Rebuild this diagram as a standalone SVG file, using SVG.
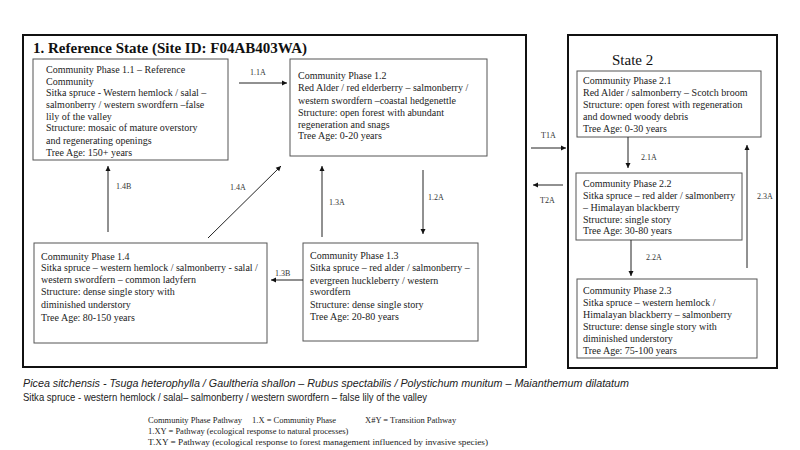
<svg xmlns="http://www.w3.org/2000/svg" width="800" height="450" viewBox="0 0 800 450">
<defs>
<marker id="ah" markerWidth="6" markerHeight="6" refX="5" refY="3" orient="auto" markerUnits="userSpaceOnUse">
<path d="M0,0.5 L5,3 L0,5.5 Z" fill="#111"/>
</marker>
<style>
.frame{fill:none;stroke:#111;stroke-width:2}
.box{fill:#fff;stroke:#555;stroke-width:1}
.t{font-family:"Liberation Serif","Times New Roman",serif;font-size:10px;fill:#222}
.lbl{font-family:"Liberation Serif","Times New Roman",serif;font-size:8px;fill:#333}
.con{stroke:#222;stroke-width:1;fill:none;marker-end:url(#ah)}
.leg{font-family:"Liberation Serif","Times New Roman",serif;font-size:8.5px;fill:#222}
.foot{font-family:"Liberation Sans",Arial,sans-serif;font-size:11px;fill:#222}
</style>
</defs>
<rect width="800" height="450" fill="#fff"/>

<g id="state1">
<rect class="frame" x="23" y="35" width="503" height="332"/>
<text x="33" y="53" font-family="Liberation Serif,Times New Roman,serif" font-size="15" font-weight="bold" fill="#111" textLength="274" lengthAdjust="spacingAndGlyphs">1. Reference State (Site ID: F04AB403WA)</text>
</g>
<g id="state2">
<rect class="frame" x="568" y="35" width="209" height="333"/>
<text x="612" y="65" font-family="Liberation Serif,Times New Roman,serif" font-size="15" fill="#111">State 2</text>
</g>

<g id="cp11">
<rect class="box" x="33" y="59" width="195" height="101"/>
<text class="t" x="46" y="73">Community Phase 1.1 – Reference</text>
<text class="t" x="46" y="84.5">Community</text>
<text class="t" x="46" y="96">Sitka spruce - Western hemlock / salal –</text>
<text class="t" x="46" y="108">salmonberry / western swordfern –false</text>
<text class="t" x="46" y="119.5">lily of the valley</text>
<text class="t" x="46" y="131">Structure: mosaic of mature overstory</text>
<text class="t" x="46" y="143.5">and regenerating openings</text>
<text class="t" x="46" y="156">Tree Age: 150+ years</text>
</g>

<g id="cp12">
<rect class="box" x="290" y="59" width="197" height="97"/>
<text class="t" x="298" y="79">Community Phase 1.2</text>
<text class="t" x="298" y="91">Red Alder / red elderberry – salmonberry /</text>
<text class="t" x="298" y="103.5">western swordfern –coastal hedgenettle</text>
<text class="t" x="298" y="115.5">Structure: open forest with abundant</text>
<text class="t" x="298" y="127.5">regeneration and snags</text>
<text class="t" x="298" y="139">Tree Age: 0-20 years</text>
</g>

<g id="cp13">
<rect class="box" x="303" y="243" width="175" height="98"/>
<text class="t" x="310" y="258.5">Community Phase 1.3</text>
<text class="t" x="310" y="271">Sitka spruce – red alder / salmonberry –</text>
<text class="t" x="310" y="283.5">evergreen huckleberry / western</text>
<text class="t" x="310" y="295">swordfern</text>
<text class="t" x="310" y="307.5">Structure: dense single story</text>
<text class="t" x="310" y="319.5">Tree Age: 20-80 years</text>
</g>

<g id="cp14">
<rect class="box" x="34" y="243" width="233" height="100"/>
<text class="t" x="41" y="259.5">Community Phase 1.4</text>
<text class="t" x="41" y="271">Sitka spruce – western hemlock / salmonberry - salal /</text>
<text class="t" x="41" y="283">western swordfern – common ladyfern</text>
<text class="t" x="41" y="294.5">Structure: dense single story with</text>
<text class="t" x="41" y="308">diminished understory</text>
<text class="t" x="41" y="320.5">Tree Age: 80-150 years</text>
</g>

<g id="cp21">
<rect class="box" x="577" y="71" width="184" height="66"/>
<text class="t" x="583" y="84">Community Phase 2.1</text>
<text class="t" x="583" y="96">Red Alder / salmonberry – Scotch broom</text>
<text class="t" x="583" y="108">Structure: open forest with regeneration</text>
<text class="t" x="583" y="120">and downed woody debris</text>
<text class="t" x="583" y="132">Tree Age: 0-30 years</text>
</g>

<g id="cp22">
<rect class="box" x="576" y="173" width="166" height="67"/>
<text class="t" x="583" y="186.5">Community Phase 2.2</text>
<text class="t" x="583" y="198.5">Sitka spruce – red alder / salmonberry</text>
<text class="t" x="583" y="210.5">– Himalayan blackberry</text>
<text class="t" x="583" y="222.5">Structure: single story</text>
<text class="t" x="583" y="234">Tree Age: 30-80 years</text>
</g>

<g id="cp23">
<rect class="box" x="577" y="279" width="180" height="79"/>
<text class="t" x="583" y="293.5">Community Phase 2.3</text>
<text class="t" x="583" y="306">Sitka spruce – western hemlock /</text>
<text class="t" x="583" y="317.5">Himalayan blackberry – salmonberry</text>
<text class="t" x="583" y="329.5">Structure: dense single story with</text>
<text class="t" x="583" y="341.5">diminished understory</text>
<text class="t" x="583" y="353.5">Tree Age: 75-100 years</text>
</g>

<g id="connectors">
<line class="con" x1="239" y1="83" x2="287" y2="83"/>
<text class="lbl" x="250" y="75">1.1A</text>
<line class="con" x1="423" y1="170" x2="423" y2="234"/>
<text class="lbl" x="428" y="200">1.2A</text>
<line class="con" x1="322" y1="237" x2="322" y2="166"/>
<text class="lbl" x="329" y="205">1.3A</text>
<line class="con" x1="303" y1="280" x2="271" y2="280"/>
<text class="lbl" x="275" y="275.5">1.3B</text>
<line class="con" x1="208" y1="238" x2="281" y2="166"/>
<text class="lbl" x="230" y="190">1.4A</text>
<line class="con" x1="108" y1="232" x2="108" y2="166"/>
<text class="lbl" x="116" y="189">1.4B</text>
<line class="con" x1="531" y1="148" x2="566" y2="148"/>
<text class="lbl" x="541" y="138">T1A</text>
<line class="con" x1="563" y1="185" x2="533" y2="185"/>
<text class="lbl" x="540" y="203">T2A</text>
<line class="con" x1="628" y1="137" x2="628" y2="168"/>
<text class="lbl" x="641" y="160">2.1A</text>
<line class="con" x1="631" y1="240" x2="631" y2="276"/>
<text class="lbl" x="646" y="260">2.2A</text>
<line class="con" x1="747" y1="268" x2="747" y2="145"/>
<text class="lbl" x="757" y="199">2.3A</text>
</g>

<g id="footer">
<text class="foot" x="23" y="387" font-style="italic" textLength="606" lengthAdjust="spacingAndGlyphs">Picea sitchensis - Tsuga heterophylla / Gaultheria shallon – Rubus spectabilis / Polystichum munitum – Maianthemum dilatatum</text>
<text class="foot" x="23" y="401" textLength="404" lengthAdjust="spacingAndGlyphs">Sitka spruce - western hemlock / salal– salmonberry / western swordfern – false lily of the valley</text>
<text class="leg" x="148" y="423">Community Phase Pathway</text>
<text class="leg" x="252" y="423">1.X = Community Phase</text>
<text class="leg" x="365" y="423">X#Y = Transition Pathway</text>
<text class="leg" x="148" y="434">1.XY = Pathway (ecological response to natural processes)</text>
<text class="leg" x="148" y="445" textLength="340" lengthAdjust="spacingAndGlyphs">T.XY = Pathway (ecological response to forest management influenced by invasive species)</text>
</g>
</svg>
